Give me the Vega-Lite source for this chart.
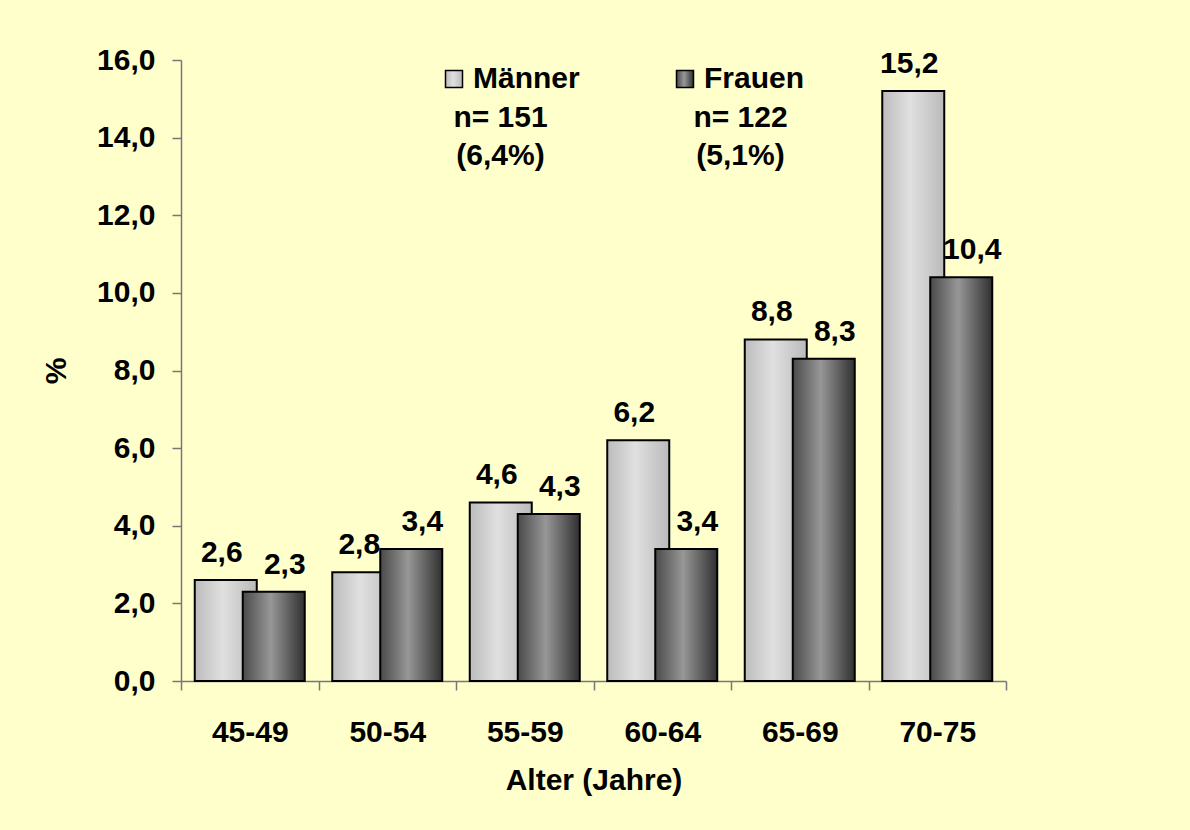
{
  "$schema": "https://vega.github.io/schema/vega-lite/v6.json",
  "width": 825,
  "height": 621,
  "autosize": {"type": "none"},
  "padding": {"left": 181, "top": 60, "right": 184, "bottom": 149},
  "background": "#FFFFCC",
  "config": {
    "locale": {"number": {"decimal": ",", "thousands": ".", "grouping": [3], "currency": ["", " €"]}},
    "font": "Liberation Sans",
    "view": {"stroke": null},
    "axis": {
      "labelFont": "Liberation Sans",
      "labelFontSize": 30,
      "labelFontWeight": "bold",
      "labelColor": "#000000",
      "titleFont": "Liberation Sans",
      "titleFontSize": 30,
      "titleFontWeight": "bold",
      "titleColor": "#000000",
      "domainColor": "#777777",
      "tickColor": "#777777",
      "domainWidth": 1.5,
      "tickWidth": 1.5,
      "tickSize": 9,
      "grid": false
    },
    "legend": {
      "labelFont": "Liberation Sans",
      "labelFontSize": 30,
      "labelFontWeight": "bold",
      "labelColor": "#000000"
    }
  },
  "resolve": {"scale": {"x": "independent"}},
  "layer": [
    {
      "data": {
        "values": [
          {"age": "45-49", "sex": "Männer", "value": 2.6},
          {"age": "50-54", "sex": "Männer", "value": 2.8},
          {"age": "55-59", "sex": "Männer", "value": 4.6},
          {"age": "60-64", "sex": "Männer", "value": 6.2},
          {"age": "65-69", "sex": "Männer", "value": 8.8},
          {"age": "70-75", "sex": "Männer", "value": 15.2},
          {"age": "45-49", "sex": "Frauen", "value": 2.3},
          {"age": "50-54", "sex": "Frauen", "value": 3.4},
          {"age": "55-59", "sex": "Frauen", "value": 4.3},
          {"age": "60-64", "sex": "Frauen", "value": 3.4},
          {"age": "65-69", "sex": "Frauen", "value": 8.3},
          {"age": "70-75", "sex": "Frauen", "value": 10.4}
        ]
      },
      "encoding": {
        "x": {
          "field": "age",
          "type": "ordinal",
          "scale": {"paddingInner": 0, "paddingOuter": 0},
          "axis": {"title": "Alter (Jahre)", "labelAngle": 0, "tickBand": "extent", "labelPadding": 27, "titlePadding": 18}
        },
        "y": {
          "field": "value",
          "type": "quantitative",
          "scale": {"domain": [0, 16], "nice": false, "zero": true},
          "axis": {"title": "%", "values": [0, 2, 4, 6, 8, 10, 12, 14, 16], "format": ".1f", "labelPadding": 17, "titlePadding": 25}
        }
      },
      "layer": [
        {
          "transform": [{"filter": "datum.sex === 'Männer'"}],
          "mark": {"type": "bar", "width": 62, "xOffset": -24, "stroke": "#000000", "strokeWidth": 2},
          "encoding": {
            "fill": {
              "field": "sex",
              "type": "nominal",
              "scale": {
                "domain": ["Männer", "Frauen"],
                "range": [
                  {"expr": "{gradient:'linear',x1:0,y1:0,x2:1,y2:0,stops:[{offset:0,color:'#bcbcbc'},{offset:0.45,color:'#e0e0e0'},{offset:1,color:'#bababa'}]}"},
                  {"expr": "{gradient:'linear',x1:0,y1:0,x2:1,y2:0,stops:[{offset:0,color:'#4a4a4a'},{offset:0.45,color:'#979797'},{offset:1,color:'#303030'}]}"}
                ]
              },
              "legend": {
                "title": null,
                "orient": "none",
                "legendX": 258,
                "legendY": 4,
                "padding": 0,
                "direction": "horizontal",
                "symbolType": "square",
                "symbolSize": 289,
                "symbolStrokeColor": "#000000",
                "symbolStrokeWidth": 1.5,
                "labelOffset": 4,
                "columnPadding": 90,
                "labelLimit": 400
              }
            }
          }
        },
        {
          "transform": [{"filter": "datum.sex === 'Frauen'"}],
          "mark": {"type": "bar", "width": 62, "xOffset": 24, "stroke": "#000000", "strokeWidth": 2},
          "encoding": {
            "fill": {"field": "sex", "type": "nominal"}
          }
        },
        {
          "transform": [{"filter": "datum.sex === 'Männer'"}],
          "mark": {"type": "text", "dx": -28, "dy": -18, "baseline": "alphabetic", "align": "center", "fontSize": 30, "fontWeight": "bold", "font": "Liberation Sans", "color": "#000000"},
          "encoding": {
            "text": {"field": "value", "type": "quantitative", "format": ".1f"}
          }
        },
        {
          "transform": [{"filter": "datum.sex === 'Frauen'"}],
          "mark": {"type": "text", "dx": 35, "dy": -18, "baseline": "alphabetic", "align": "center", "fontSize": 30, "fontWeight": "bold", "font": "Liberation Sans", "color": "#000000"},
          "encoding": {
            "text": {"field": "value", "type": "quantitative", "format": ".1f"}
          }
        }
      ]
    },
    {
      "data": {
        "values": [
          {"sex": "Männer", "info": "n= 151\n(6,4%)"},
          {"sex": "Frauen", "info": "n= 122\n(5,1%)"}
        ]
      },
      "mark": {"type": "text", "dx": 27, "baseline": "alphabetic", "align": "center", "fontSize": 30, "fontWeight": "bold", "font": "Liberation Sans", "color": "#000000", "lineBreak": "\n", "lineHeight": 38},
      "encoding": {
        "x": {"field": "sex", "type": "nominal", "scale": {"type": "band", "domain": ["Männer", "Frauen"], "paddingInner": 0, "paddingOuter": 0.71875}, "axis": null},
        "y": {"datum": 14.27, "type": "quantitative"},
        "text": {"field": "info", "type": "nominal"}
      }
    }
  ]
}
